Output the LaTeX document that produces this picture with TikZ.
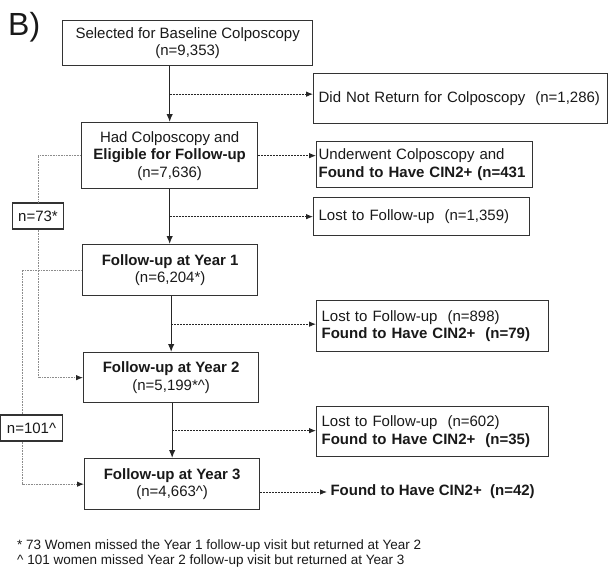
\documentclass[tikz,border=0pt]{standalone}
\usepackage{fontspec}
\setmainfont{Liberation Sans}
\usetikzlibrary{calc,positioning,arrows.meta}
\definecolor{boxline}{HTML}{333333}
\definecolor{skipline}{HTML}{8C8C8C}

\begin{document}
\begin{tikzpicture}
	[x=1pt,y=-1pt,every node/.style={font=\fontsize{15}{17.5}\selectfont,text=black!90},
	mainbox/.style={draw=boxline,line width=1.3pt,align=center,anchor=north west,inner sep=2pt},
	sidebox/.style={draw=boxline,line width=1.3pt,align=left,anchor=north west,inner xsep=5pt,inner ysep=2pt},
	countbox/.style={draw=boxline,line width=1.3pt,fill=white,inner xsep=6pt,minimum height=26pt},
	arr/.style={line width=1.2pt,draw=black!85,-{Latex[length=8pt,width=6.5pt]}},
	dasharr/.style={line width=0.8pt,draw=black!85,dash pattern=on 2pt off 1pt,-{Latex[length=7pt,width=5.5pt]}},
	skip/.style={draw=skipline,line width=0.9pt,dash pattern=on 1pt off 0.6pt},
	skiparr/.style={skip,-{Latex[length=7pt,width=5.5pt,color=black!85]}}]
	\useasboundingbox (0,0) rectangle (608,570);
	\node[font=\fontsize{32}{36}\selectfont,anchor=base west,inner sep=0pt] (lbl) at (8,35) {B)};
	\node[mainbox,minimum width=250pt,minimum height=45pt] (sel) at (62,20) {Selected for Baseline Colposcopy\\(n=9,353)};
	\node[mainbox,minimum width=176pt,minimum height=66pt] (had) at (81,122) {Had Colposcopy and\\\textbf{Eligible for Follow-up}\\(n=7,636)};
	\node[mainbox,minimum width=175pt,minimum height=51pt] (yr1) at (82,244) {\textbf{Follow-up at Year 1}\\(n=6,204*)};
	\node[mainbox,minimum width=175pt,minimum height=50pt] (yr2) at (83,352) {\textbf{Follow-up at Year 2}\\(n=5,199*\textasciicircum)};
	\node[mainbox,minimum width=175pt,minimum height=51pt] (yr3) at (84,458) {\textbf{Follow-up at Year 3}\\(n=4,663\textasciicircum)};
	\node[sidebox,text width=284pt,minimum height=50pt] (dnr) at (313,73) {Did Not Return for Colposcopy~ (n=1,286)};
	\node[sidebox,inner xsep=2pt,text width=212pt,minimum height=46pt] (und) at (316,141) {Underwent Colposcopy and\\\textbf{Found to Have CIN2+ (n=431}};
	\node[sidebox,text width=206pt,minimum height=38pt] (lost) at (313,197) {Lost to Follow-up~ (n=1,359)};
	\node[sidebox,text width=222pt,minimum height=51pt] (lfu1) at (316,300) {Lost to Follow-up~ (n=898)\\\textbf{Found to Have CIN2+~ (n=79)}};
	\node[sidebox,text width=222pt,minimum height=50pt] (lfu2) at (316,406) {Lost to Follow-up~ (n=602)\\\textbf{Found to Have CIN2+~ (n=35)}};
	\node[font=\fontsize{15}{17.5}\selectfont\bfseries,anchor=west] (cin) at (327,492) {Found to Have CIN2+~ (n=42)};
	\draw[arr] (had.north |- sel.south) -- (had.north);
	\draw[arr] (had.south) -- (had.south |- yr1.north);
	\draw[arr] (yr2.north |- yr1.south) -- (yr2.north);
	\draw[arr] (yr3.north |- yr2.south) -- (yr3.north);
	\coordinate (b1) at ($(had.north |- sel.south)!.5!(had.north)$);
	\coordinate (b2) at ($(had.south)!.5!(had.south |- yr1.north)$);
	\coordinate (b3) at ($(yr2.north |- yr1.south)!.5!(yr2.north)$);
	\coordinate (b4) at ($(yr3.north |- yr2.south)!.5!(yr3.north)$);
	\draw[dasharr] (b1) -- (b1 -| dnr.west);
	\draw[dasharr] (had.east) -- (had.east -| und.west);
	\draw[dasharr] (b2) -- (b2 -| lost.west);
	\draw[dasharr] (b3) -- (b3 -| lfu1.west);
	\draw[dasharr] (b4) -- (b4 -| lfu2.west);
	\draw[dasharr] (yr3.east |- cin.west) -- (cin.west);
	\node[countbox] (n73) at (38,216) {n=73*};
	\node[countbox,inner xsep=6.5pt] (n101) at (31.5,428) {n=101\textasciicircum};
	\coordinate (c101) at (22,0);
	\draw[skip] (had.west) -| (n73.north);
	\draw[skiparr] (n73.south) |- (yr2.west);
	\draw[skip] (yr1.west) -| (c101 |- n101.north);
	\draw[skiparr] (c101 |- n101.south) |- (yr3.west);
	\node[font=\fontsize{13.5}{15}\selectfont,align=left,anchor=north west,inner sep=0pt] (note) at (17,540) {* 73 Women missed the Year 1 follow-up visit but returned at Year 2\\\textasciicircum\ 101 women missed Year 2 follow-up visit but returned at Year 3};
\end{tikzpicture}
\end{document}
